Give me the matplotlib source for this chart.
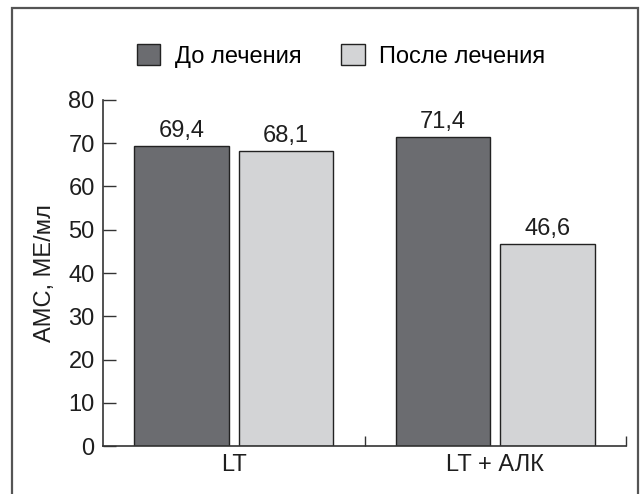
import matplotlib
matplotlib.use("Agg")
import matplotlib.pyplot as plt
from matplotlib.patches import Rectangle
import numpy as np

plt.rcParams['font.family'] = ['Liberation Sans', 'DejaVu Sans']

categories = ["LT", "LT + АЛК"]
series_names = ["До лечения", "После лечения"]
before = [69.4, 71.4]
after = [68.1, 46.6]
before_labels = ["69,4", "71,4"]
after_labels = ["68,1", "46,6"]
yticks = [0, 10, 20, 30, 40, 50, 60, 70, 80]

dark = "#6b6c70"
light = "#d3d4d6"
edge = "#222222"
txt = "#1e1e1e"
FS = 17

fig = plt.figure(figsize=(6.4, 4.94), dpi=100)
fig.patches.append(Rectangle((12/640, -0.05), (638-12)/640, 1.05 - 8/494,
                             transform=fig.transFigure, fill=False,
                             edgecolor="#555555", linewidth=1.6))

ax = fig.add_axes([103/640, 1-446/494, (626-103)/640, (446-100)/494])
x = np.arange(len(categories))
w = 0.36
off = 0.2
b1 = ax.bar(x - off, before, w, color=dark, edgecolor=edge, linewidth=1.0, label=series_names[0])
b2 = ax.bar(x + off, after, w, color=light, edgecolor=edge, linewidth=1.0, label=series_names[1])

for xi, v, s in zip(x - off, before, before_labels):
    ax.text(xi, v + 1.0, s, ha="center", va="bottom", fontsize=FS, color=txt)
for xi, v, s in zip(x + off, after, after_labels):
    ax.text(xi, v + 1.0, s, ha="center", va="bottom", fontsize=FS, color=txt)

ax.set_xlim(-0.5, 1.5)
ax.set_ylim(0, 80)
ax.set_yticks(yticks)
ax.set_yticklabels([str(t) for t in yticks], fontsize=FS, color=txt)
ax.tick_params(axis="y", direction="in", length=9, width=1.0, color="#333333", pad=6)

ax.set_xticks(x)
ax.set_xticklabels(categories, fontsize=FS, color=txt)
ax.tick_params(axis="x", length=0, pad=6)
ax.set_xticks([0.5, 1.5], minor=True)
ax.tick_params(axis="x", which="minor", direction="in", length=7, width=1.0, color="#333333")

for s in ["top", "right"]:
    ax.spines[s].set_visible(False)
for s in ["left", "bottom"]:
    ax.spines[s].set_color("#333333")
    ax.spines[s].set_linewidth(1.2)

ax.set_ylabel("АМС, МЕ/мл", fontsize=FS, color=txt, labelpad=9)

fig.legend(handles=[b1, b2], labels=series_names, loc="center", bbox_to_anchor=(341/640, 1-56/494),
           ncol=2, frameon=False, fontsize=FS, handlelength=1.0, handleheight=1.0,
           handletextpad=0.6, columnspacing=1.7)

fig.savefig("out.png", dpi=100)
